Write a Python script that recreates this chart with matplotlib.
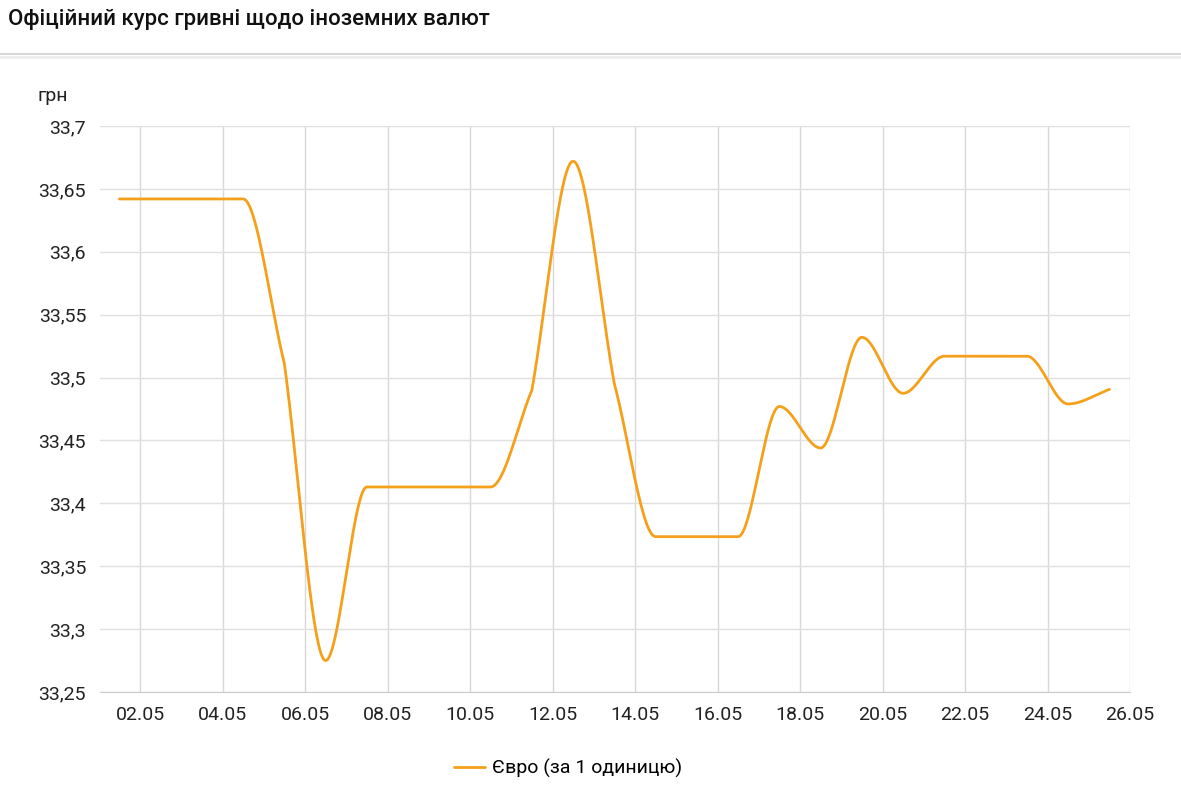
import numpy as np
import matplotlib
matplotlib.use("Agg")
import matplotlib.pyplot as plt
from matplotlib.lines import Line2D
from matplotlib.ticker import FuncFormatter

plt.rcParams['font.family'] = ['Roboto', 'DejaVu Sans']

# курс євро, 01.05 - 25.05
days = list(range(1, 26))
euro = [33.642, 33.642, 33.642, 33.642, 33.511, 33.275, 33.413, 33.413, 33.413, 33.413,
        33.490, 33.672, 33.495, 33.3735, 33.3735, 33.3735, 33.477, 33.444, 33.532, 33.4875,
        33.517, 33.517, 33.517, 33.479, 33.4906]
tick_days = list(range(2, 27, 2))
tick_labels = [f"{d:02d}.05" for d in tick_days]
y_ticks = [33.25, 33.3, 33.35, 33.4, 33.45, 33.5, 33.55, 33.6, 33.65, 33.7]

orange = '#f5a01a'


def smooth_line(x, y, n=40):
    # згладжування як на сайті: на екстремумах і плато дотична 0,
    # інакше кожен сегмент приходить/виходить під нахилом своєї хорди
    x = np.asarray(x, float)
    y = np.asarray(y, float)
    h = np.diff(x)
    s = np.diff(y) / h
    m = len(x)
    tl = np.zeros(m)
    tr = np.zeros(m)
    for i in range(1, m - 1):
        if s[i - 1] * s[i] > 0:
            tl[i] = s[i - 1]
            tr[i] = s[i]
    tr[0] = s[0]
    tl[-1] = s[-1]
    xs, ys = [], []
    for i in range(m - 1):
        u = np.linspace(0, 1, n)
        h00 = 2 * u**3 - 3 * u**2 + 1
        h10 = u**3 - 2 * u**2 + u
        h01 = -2 * u**3 + 3 * u**2
        h11 = u**3 - u**2
        xs.extend(x[i] + u * h[i])
        ys.extend(h00 * y[i] + h10 * h[i] * tr[i] + h01 * y[i + 1] + h11 * h[i] * tl[i + 1])
    return np.array(xs), np.array(ys)


fig = plt.figure(figsize=(11.81, 7.96), dpi=100)
ax = fig.add_axes([100 / 1181, 1 - 692 / 796, 1030 / 1181, 566 / 796])

xpos = np.array(days) + 0.5  # точки в середині дня
cx, cy = smooth_line(xpos, euro)
ax.plot(cx, cy, color=orange, lw=2.0, label='Євро (за 1 одиницю)',
        solid_capstyle='round', solid_joinstyle='round')

ax.set_xlim(1.03, 26)
ax.set_ylim(33.25, 33.7)
ax.set_xticks(tick_days)
ax.set_xticklabels(tick_labels)
ax.set_yticks(y_ticks)
ax.yaxis.set_major_formatter(FuncFormatter(lambda v, p: f"{v:.2f}".rstrip('0').replace('.', ',')))
ax.tick_params(axis='both', length=0, labelsize=14, labelcolor='#222222')
ax.tick_params(axis='y', pad=10)
ax.tick_params(axis='x', pad=10)
ax.grid(True, axis='y', color='#e0e0e0', lw=1)
ax.grid(True, axis='x', color='#d8d8d8', lw=1)
ax.set_axisbelow(True)
for sp in ['top', 'right', 'left']:
    ax.spines[sp].set_visible(False)
ax.spines['bottom'].set_color('#cccccc')

fig.text(8 / 1181, 1 - 20 / 796, 'Офіційний курс гривні щодо іноземних валют',
         fontsize=16, fontweight='medium', va='center', ha='left', color='#111111')
# розділювач під заголовком
fig.add_artist(Line2D([0, 1], [1 - 54 / 796] * 2, color='#d6d6d6', lw=1.5))
fig.add_artist(Line2D([0, 1], [1 - 56.5 / 796] * 2, color='#ededed', lw=2))
fig.text(38 / 1181, 1 - 96 / 796, 'грн', fontsize=14, va='center', ha='left', color='#222222')

fig.legend(loc='center', bbox_to_anchor=(568 / 1181, 1 - 768 / 796), frameon=False,
           fontsize=14, handlelength=1.55, handletextpad=0.36)

fig.savefig('out.png', dpi=100, facecolor='white')
